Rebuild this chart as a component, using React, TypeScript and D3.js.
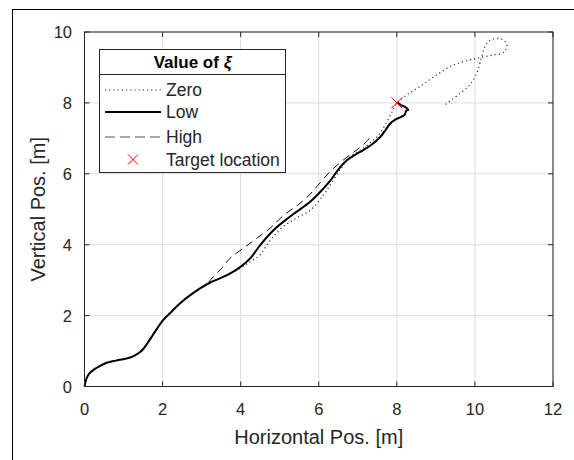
import React from "react";
import * as d3 from "d3";

// Robot trajectories for three values of the tuning parameter xi
const lowX = [0, 0.05, 0.12, 0.23, 0.4, 0.57, 0.8, 0.99, 1.15, 1.28, 1.4, 1.5, 1.6, 1.72, 1.85, 2.02, 2.2, 2.45, 2.7, 2.96, 3.2, 3.47, 3.7, 3.98, 4.25, 4.5, 4.84, 5.26, 5.78, 6.03, 6.29, 6.5, 6.72, 6.95, 7.14, 7.35, 7.57, 7.72, 7.83, 7.96, 8.1, 8.2, 8.24, 8.29, 8.21, 8.12, 8.04, 8.0];
const lowY = [0, 0.22, 0.36, 0.47, 0.58, 0.67, 0.73, 0.77, 0.81, 0.87, 0.95, 1.05, 1.2, 1.4, 1.62, 1.88, 2.08, 2.35, 2.57, 2.77, 2.92, 3.05, 3.17, 3.36, 3.62, 3.99, 4.41, 4.79, 5.21, 5.48, 5.8, 6.12, 6.38, 6.55, 6.67, 6.82, 7.03, 7.25, 7.42, 7.53, 7.6, 7.66, 7.78, 7.8, 7.89, 7.93, 7.99, 8.0];

const zeroX = [0, 0.05, 0.12, 0.23, 0.4, 0.57, 0.8, 0.99, 1.15, 1.28, 1.4, 1.5, 1.6, 1.72, 1.85, 2.02, 2.2, 2.45, 2.7, 2.96, 3.2, 3.56, 3.98, 4.24, 4.5, 4.67, 4.84, 5.09, 5.44, 5.78, 6.12, 6.29, 6.54, 6.8, 7.14, 7.4, 7.57, 7.72, 7.88, 8.0, 8.25, 8.59, 9.02, 9.45, 9.87, 10.13, 10.47, 10.73, 10.82, 10.75, 10.6, 10.39, 10.26, 10.16, 10.05, 9.87, 9.62, 9.2];
const zeroY = [0, 0.22, 0.36, 0.47, 0.58, 0.67, 0.73, 0.77, 0.81, 0.87, 0.95, 1.05, 1.2, 1.4, 1.62, 1.88, 2.08, 2.35, 2.57, 2.77, 2.92, 3.1, 3.33, 3.52, 3.71, 3.99, 4.23, 4.51, 4.76, 4.97, 5.4, 5.68, 6.1, 6.48, 6.72, 6.95, 7.14, 7.42, 7.75, 8.0, 8.22, 8.46, 8.79, 9.07, 9.21, 9.28, 9.35, 9.42, 9.6, 9.76, 9.82, 9.77, 9.59, 9.25, 8.84, 8.51, 8.27, 7.92];

const highX = [0, 0.05, 0.12, 0.23, 0.4, 0.57, 0.8, 0.99, 1.15, 1.28, 1.4, 1.5, 1.6, 1.72, 1.85, 2.02, 2.2, 2.45, 2.7, 2.96, 3.09, 3.3, 3.51, 3.73, 4.07, 4.41, 4.75, 5.09, 5.44, 5.73, 5.91, 6.29, 6.63, 6.97, 7.2, 7.27, 7.31, 7.25, 7.29];
const highY = [0, 0.22, 0.36, 0.47, 0.58, 0.67, 0.73, 0.77, 0.81, 0.87, 0.95, 1.05, 1.2, 1.4, 1.62, 1.88, 2.08, 2.35, 2.57, 2.77, 2.84, 3.1, 3.33, 3.62, 3.9, 4.18, 4.46, 4.82, 5.1, 5.37, 5.59, 6.06, 6.39, 6.67, 6.88, 6.97, 6.95, 6.93, 7.0];

const targetX = [8];
const targetY = [8];

const xTicks = [0, 2, 4, 6, 8, 10, 12];
const yTicks = [0, 2, 4, 6, 8, 10];
const legendLabels = ["Zero", "Low", "High", "Target location"];

const W = 574;
const H = 460;
const left = 84.5;
const right = 553;
const top = 32;
const bottom = 386.5;
const FONT = "'Liberation Sans', Arial, Helvetica, sans-serif";
const TXT = "#262626";

export default function App() {
  const x = d3.scaleLinear().domain([0, 12]).range([left, right]);
  const y = d3.scaleLinear().domain([0, 10]).range([bottom, top]);
  const line = d3
    .line<[number, number]>()
    .x((d) => x(d[0]))
    .y((d) => y(d[1]))
    .curve(d3.curveCatmullRom.alpha(0.5));
  const pts = (xs: number[], ys: number[]) => xs.map((v, i) => [v, ys[i]] as [number, number]);

  const tickLen = 5;
  const lg = { x: 99.5, y: 49.5, w: 186, h: 123, sep: 74.5 };
  const rowY = [90, 112, 137, 159.5];
  const lx0 = 105;
  const lx1 = 161;
  const ltx = 166;

  const cross = (cx: number, cy: number, s: number, key: string) => (
    <g key={key} stroke="#ff0000" strokeWidth={1}>
      <line x1={cx - s} y1={cy - s} x2={cx + s} y2={cy + s} />
      <line x1={cx - s} y1={cy + s} x2={cx + s} y2={cy - s} />
    </g>
  );

  return (
    <svg
      width={W}
      height={H}
      style={{ position: "absolute", left: 0, top: 0, background: "#fff" }}
      fontFamily={FONT}
    >
      <rect x={0} y={0} width={W} height={H} fill="#fff" />
      {/* figure frame */}
      <rect x={12.5} y={9.5} width={700} height={600} fill="none" stroke="#000" strokeWidth={1} />

      {/* grid */}
      <g stroke="#dedede" strokeWidth={1}>
        {xTicks.map((t) => (
          <line key={"gx" + t} x1={x(t)} x2={x(t)} y1={top} y2={bottom} />
        ))}
        {yTicks.map((t) => (
          <line key={"gy" + t} x1={left} x2={right} y1={y(t)} y2={y(t)} />
        ))}
      </g>

      {/* trajectories */}
      <path d={line(pts(zeroX, zeroY)) ?? ""} fill="none" stroke="#222" strokeWidth={1.1} strokeDasharray="1.2,3" />
      <path d={line(pts(highX, highY)) ?? ""} fill="none" stroke="#111" strokeWidth={1} strokeDasharray="8,5" />
      <path d={line(pts(lowX, lowY)) ?? ""} fill="none" stroke="#000" strokeWidth={2} strokeLinejoin="round" />
      {targetX.map((t, i) => cross(x(t), y(targetY[i]), 5.5, "t" + i))}

      {/* axes box with inward ticks */}
      <rect x={left} y={top} width={right - left} height={bottom - top} fill="none" stroke="#262626" strokeWidth={1} />
      <g stroke="#262626" strokeWidth={1}>
        {xTicks.map((t) => (
          <g key={"tx" + t}>
            <line x1={x(t)} x2={x(t)} y1={bottom} y2={bottom - tickLen} />
            <line x1={x(t)} x2={x(t)} y1={top} y2={top + tickLen} />
          </g>
        ))}
        {yTicks.map((t) => (
          <g key={"ty" + t}>
            <line x1={left} x2={left + tickLen} y1={y(t)} y2={y(t)} />
            <line x1={right} x2={right - tickLen} y1={y(t)} y2={y(t)} />
          </g>
        ))}
      </g>
      <g fill={TXT} fontSize={16.5}>
        {xTicks.map((t) => (
          <text key={"lx" + t} x={x(t)} y={415} textAnchor="middle">
            {t}
          </text>
        ))}
        {yTicks.map((t) => (
          <text key={"ly" + t} x={72} y={y(t) + 6} textAnchor="end">
            {t}
          </text>
        ))}
      </g>
      <text x={(left + right) / 2} y={444} textAnchor="middle" fontSize={20} fill={TXT}>
        Horizontal Pos. [m]
      </text>
      <text
        transform={`translate(45,${(top + bottom) / 2}) rotate(-90)`}
        textAnchor="middle"
        fontSize={20}
        fill={TXT}
      >
        Vertical Pos. [m]
      </text>

      {/* legend */}
      <rect x={lg.x} y={lg.y} width={lg.w} height={lg.h} fill="#fff" stroke="#262626" strokeWidth={1} />
      <line x1={lg.x} x2={lg.x + lg.w} y1={lg.sep} y2={lg.sep} stroke="#262626" strokeWidth={1} />
      <text x={lg.x + lg.w / 2} y={68} textAnchor="middle" fontSize={17} fontWeight="bold" fill="#000">
        Value of <tspan fontStyle="italic">ξ</tspan>
      </text>
      <line x1={lx0} x2={lx1} y1={rowY[0]} y2={rowY[0]} stroke="#222" strokeWidth={1.1} strokeDasharray="1.2,3" />
      <line x1={lx0} x2={lx1} y1={rowY[1]} y2={rowY[1]} stroke="#000" strokeWidth={2} />
      <line x1={lx0} x2={lx1} y1={rowY[2]} y2={rowY[2]} stroke="#555" strokeWidth={1} strokeDasharray="10,5" />
      {cross((lx0 + lx1) / 2, rowY[3], 5, "lgx")}
      <g fill={TXT} fontSize={17.5}>
        {legendLabels.map((l, i) => (
          <text key={l} x={ltx} y={rowY[i] + 6}>
            {l}
          </text>
        ))}
      </g>
    </svg>
  );
}
